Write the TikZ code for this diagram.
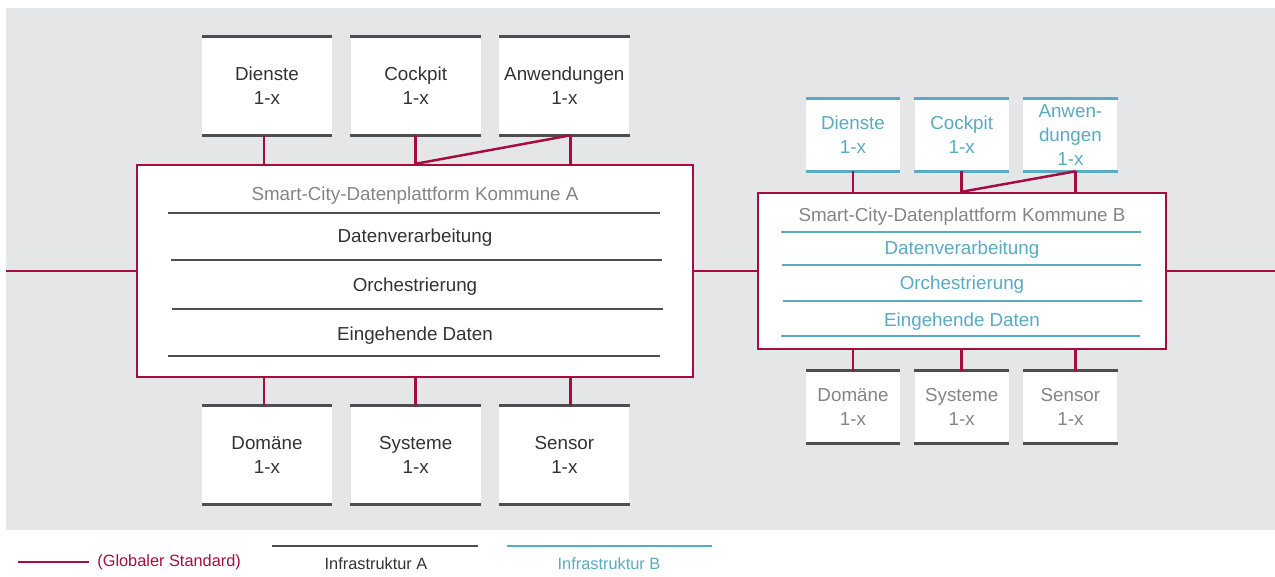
\documentclass[tikz,border=0pt]{standalone}
\usepackage{fontspec}
\setmainfont{Liberation Sans}
\usetikzlibrary{positioning}

\definecolor{kred}{HTML}{A50D3F}
\definecolor{kteal}{HTML}{5AAAC2}
\definecolor{bggray}{HTML}{E5E6E8}
\definecolor{bardark}{HTML}{4E4E4E}
\definecolor{txtdark}{HTML}{333333}
\definecolor{txtgray}{HTML}{858585}

\begin{document}
\begin{tikzpicture}[
  x=0.02cm, y=-0.02cm,
  every node/.style = {font=\fontsize{10.7}{13.6}\selectfont},
  boxA/.style = {fill=white, minimum width=2.6cm, minimum height=1.96cm,
                 align=center, text=txtdark, inner sep=0pt},
  boxB/.style = {fill=white, minimum width=1.88cm, minimum height=1.44cm,
                 align=center, inner sep=0pt},
  plat/.style = {draw=kred, line width=1.4pt, fill=white},
  net/.style  = {line width=1.4pt, color=kred},
  bar/.style  = {line width=1.7pt, color=bardark},
  barB/.style = {line width=1.5pt, color=kteal},
  layA/.style = {line width=1.4pt, color=bardark},
  layB/.style = {line width=1.2pt, color=kteal},
  legend/.style = {font=\fontsize{9.3}{11}\selectfont}
]

  \useasboundingbox (0,0) rectangle (1275,577);
  \fill[bggray] (6,8) rectangle (1275,530);

  % Kommune A
  \node[plat, minimum width=11.12cm, minimum height=4.24cm] (platA) at (415,271) {};

  \node[boxA] (dA) at (267,86) {Dienste\\1-x};
  \node[boxA, right=0.36cm of dA] (cA) {Cockpit\\1-x};
  \node[boxA, right=0.36cm of cA] (aA) {Anwendungen\\1-x};

  \node[boxA] (doA) at (267,455) {Domäne\\1-x};
  \node[boxA, right=0.36cm of doA] (sysA) {Systeme\\1-x};
  \node[boxA, right=0.36cm of sysA] (senA) {Sensor\\1-x};

  \node[text=txtgray] (titleA) at (415,196) {Smart-City-Datenplattform Kommune A};
  \node[text=txtdark] (dvA) at (415,238) {Datenverarbeitung};
  \node[text=txtdark] (orA) at (415,287) {Orchestrierung};
  \node[text=txtdark] (eiA) at (415,336) {Eingehende Daten};

  \draw[layA] (168,213) -- (660,213);
  \draw[layA] (171,260) -- (662,260);
  \draw[layA] (172,309) -- (663,309);
  \draw[layA] (168,356) -- (660,356);

  % Kommune B
  \node[plat, minimum width=8.16cm, minimum height=3.12cm] (platB) at (962,271) {};

  \node[boxB, text=kteal] (dB) at (853,135) {Dienste\\1-x};
  \node[boxB, text=kteal, right=0.28cm of dB] (cB) {Cockpit\\1-x};
  \node[boxB, text=kteal, right=0.28cm of cB] (aB) {Anwen-\\dungen\\1-x};

  \node[boxB, text=txtgray] (doB) at (853,407) {Domäne\\1-x};
  \node[boxB, text=txtgray, right=0.28cm of doB] (sysB) {Systeme\\1-x};
  \node[boxB, text=txtgray, right=0.28cm of sysB] (senB) {Sensor\\1-x};

  \node[text=txtgray] (titleB) at (962,217) {Smart-City-Datenplattform Kommune B};
  \node[text=kteal] (dvB) at (962,250) {Datenverarbeitung};
  \node[text=kteal] (orB) at (962,285) {Orchestrierung};
  \node[text=kteal] (eiB) at (962,322) {Eingehende Daten};

  \draw[layB] (781,232) -- (1141,232);
  \draw[layB] (782,265) -- (1141,265);
  \draw[layB] (783,301) -- (1142,301);
  \draw[layB] (781,336) -- (1140,336);

  % box edges
  \foreach \n in {dA,cA,aA,doA,sysA,senA,doB,sysB,senB}
    \draw[bar] (\n.north west) -- (\n.north east) (\n.south west) -- (\n.south east);
  \foreach \n in {dB,cB,aB}
    \draw[barB] (\n.north west) -- (\n.north east) (\n.south west) -- (\n.south east);

  % globaler Standard
  \coordinate (wL) at (6,271);
  \coordinate (wR) at (1275,271);
  \draw[net] (wL) -- (platA.west);
  \draw[net] (platA.east) -- (platB.west);
  \draw[net] (platB.east) -- (wR);

  \coordinate (dAc) at ([xshift=-0.06cm]dA.south);
  \coordinate (aAc) at ([xshift=0.12cm]aA.south);
  \coordinate (doAc) at ([xshift=-0.06cm]doA.north);
  \coordinate (senAc) at ([xshift=0.12cm]senA.north);
  \coordinate (aBc) at ([xshift=0.1cm]aB.south);
  \coordinate (senBc) at ([xshift=0.1cm]senB.north);

  \foreach \n in {dAc,cA.south,aAc}
    \draw[net] (\n) -- (\n |- platA.north);
  \foreach \n in {doAc,sysA.north,senAc}
    \draw[net] (\n) -- (\n |- platA.south);
  \draw[net] (cA |- platA.north) -- (aAc);

  \foreach \n in {dB.south,cB.south,aBc}
    \draw[net] (\n) -- (\n |- platB.north);
  \foreach \n in {doB.north,sysB.north,senBc}
    \draw[net] (\n) -- (\n |- platB.south);
  \draw[net] (cB |- platB.north) -- (aBc);

  % Legende
  \node[legend, anchor=west, text=kred, inner sep=0pt] (lgRed) at (97,562) {(Globaler Standard)};
  \coordinate (lgRedL) at (18,562);
  \draw[net, line width=1.6pt] (lgRedL) -- ([xshift=-0.16cm]lgRed.west);

  \node[legend, text=txtdark] (lgA) at (376,564) {Infrastruktur A};
  \coordinate (lgAL) at (272,546);
  \coordinate (lgAR) at (478,546);
  \draw[line width=0.9pt, color=bardark] (lgAL) -- (lgAR);

  \node[legend, text=kteal] (lgB) at (609,564) {Infrastruktur B};
  \coordinate (lgBL) at (507,546);
  \coordinate (lgBR) at (712,546);
  \draw[line width=0.9pt, color=kteal] (lgBL) -- (lgBR);

\end{tikzpicture}
\end{document}
